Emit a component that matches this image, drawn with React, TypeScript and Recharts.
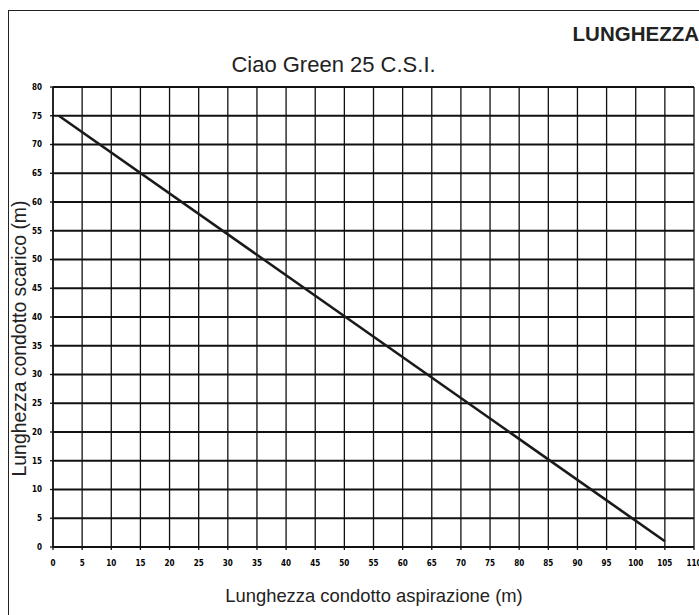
import React from 'react';
import { LineChart, Line, XAxis, YAxis, CartesianGrid } from 'recharts';

// values
const aspirazione = [1, 105];
const scarico = [75, 1];
const xTicks = [0, 5, 10, 15, 20, 25, 30, 35, 40, 45, 50, 55, 60, 65, 70, 75, 80, 85, 90, 95, 100, 105, 110];
const yTicks = [0, 5, 10, 15, 20, 25, 30, 35, 40, 45, 50, 55, 60, 65, 70, 75, 80];

const title = 'LUNGHEZZA';
const subtitle = 'Ciao Green 25 C.S.I.';
const xTitle = 'Lunghezza condotto aspirazione (m)';
const yTitle = 'Lunghezza condotto scarico (m)';

const data = aspirazione.map((x, i) => ({ x, y: scarico[i] }));

const W = 699;
const H = 615;
const font = '"Liberation Sans", Arial, sans-serif';
const tickFont = {
  fontFamily: '"Liberation Sans Narrow", "DejaVu Sans Condensed", "Liberation Sans", sans-serif',
  fontSize: 8,
  fontWeight: 700,
  fill: '#000',
};

export default function App() {
  return (
    <div
      style={{
        position: 'absolute',
        left: 0,
        top: 0,
        width: W,
        height: H,
        overflow: 'hidden',
        background: '#fff',
      }}
    >
      {/* outer frame, runs off the right and bottom edges */}
      <div
        style={{
          position: 'absolute',
          left: 8,
          top: 10,
          width: 800,
          height: 800,
          border: '1.5px solid #222',
        }}
      />
      <div style={{ position: 'absolute', left: 0, top: 0 }}>
        <LineChart
          width={W}
          height={H}
          data={data}
          margin={{ top: 87, right: 5, bottom: 38, left: 13 }}
        >
          <CartesianGrid stroke="#111" strokeWidth={1.3} horizontal={false} />
          <CartesianGrid stroke="#111" strokeWidth={1.8} vertical={false} />
          <XAxis
            type="number"
            dataKey="x"
            domain={[0, 110]}
            ticks={xTicks}
            interval={0}
            height={30}
            tickSize={3}
            tickMargin={10}
            tick={tickFont}
            axisLine={{ stroke: '#111', strokeWidth: 2 }}
            tickLine={{ stroke: '#111', strokeWidth: 1.3 }}
          />
          <YAxis
            type="number"
            domain={[0, 80]}
            ticks={yTicks}
            interval={0}
            width={40}
            tickSize={3}
            tickMargin={8}
            tick={tickFont}
            axisLine={{ stroke: '#111', strokeWidth: 1.5 }}
            tickLine={{ stroke: '#111', strokeWidth: 1.3 }}
          />
          <Line
            type="linear"
            dataKey="y"
            stroke="#1a1a1a"
            strokeWidth={2.6}
            dot={false}
            isAnimationActive={false}
          />
        </LineChart>
      </div>
      <svg
        width={W}
        height={H}
        style={{ position: 'absolute', left: 0, top: 0, pointerEvents: 'none' }}
      >
        <text x={699} y={41} textAnchor="end" fontFamily={font} fontWeight={700} fontSize={20.5} fill="#222">
          {title}
        </text>
        <text x={333.5} y={72} textAnchor="middle" fontFamily={font} fontSize={22} fill="#222">
          {subtitle}
        </text>
        <text x={374} y={601.5} textAnchor="middle" fontFamily={font} fontSize={18.4} fill="#222">
          {xTitle}
        </text>
        <text
          x={0}
          y={0}
          transform="translate(26 338.5) rotate(-90)"
          textAnchor="middle"
          fontFamily={font}
          fontSize={19.4}
          fill="#222"
        >
          {yTitle}
        </text>
      </svg>
    </div>
  );
}
